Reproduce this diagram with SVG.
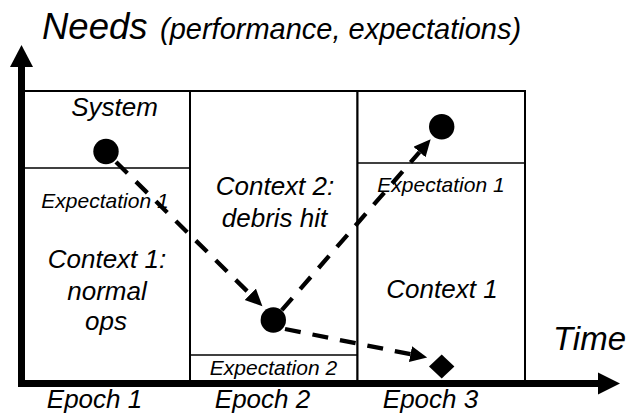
<svg xmlns="http://www.w3.org/2000/svg" width="628" height="415" viewBox="0 0 628 415">
<defs>
<style>
text{font-family:"Liberation Sans",Arial,sans-serif;font-style:italic;fill:#000}
.ctx{font-size:26px;text-anchor:middle}
.exp{font-size:21px;text-anchor:middle}
.box{fill:#fff;stroke:#000;stroke-width:2}
.div{stroke:#000;stroke-width:1.5}
.dash{fill:none;stroke:#000;stroke-width:4.3;stroke-dasharray:16 12;marker-end:url(#ah)}
.axis{stroke:#000;stroke-width:7;fill:none}
</style>
<marker id="ah" markerUnits="userSpaceOnUse" markerWidth="20" markerHeight="20" refX="0" refY="8" orient="auto">
<path d="M0,0 L17,8 L0,16 Z" fill="#000"/>
</marker>
</defs>
<rect width="628" height="415" fill="#fff"/>
<g id="epoch1">
<rect class="box" x="21.5" y="91" width="168.5" height="292"/>
<line class="div" x1="21.5" y1="168" x2="190" y2="168"/>
<text class="ctx" x="114.5" y="116">System</text>
<text class="exp" x="105" y="208">Expectation 1</text>
<text class="ctx" x="107" y="268">Context 1:</text>
<text class="ctx" x="107" y="300">normal</text>
<text class="ctx" x="106" y="330">ops</text>
</g>
<g id="epoch2">
<rect class="box" x="190" y="91" width="167.5" height="292"/>
<line class="div" x1="190" y1="355" x2="357.5" y2="355"/>
<text class="ctx" x="275" y="195">Context 2:</text>
<text class="ctx" x="274.5" y="227">debris hit</text>
<text class="exp" x="273.5" y="375">Expectation 2</text>
</g>
<g id="epoch3">
<rect class="box" x="357.5" y="91" width="167.5" height="292"/>
<line class="div" x1="357.5" y1="163" x2="525" y2="163"/>
<text class="exp" x="441" y="192">Expectation 1</text>
<text class="ctx" x="442" y="298">Context 1</text>
</g>
<g id="axes">
<line class="axis" x1="21.5" y1="66" x2="21.5" y2="383"/>
<line class="axis" x1="18" y1="383.5" x2="599" y2="383.5"/>
<path d="M21.5,45 L33,67 L10,67 Z" fill="#000"/>
<path d="M620,383.5 L598,372.5 L598,394.5 Z" fill="#000"/>
<text x="42" y="39" style="font-size:36.5px">Needs<tspan x="160" style="font-size:29px">(performance, expectations)</tspan></text>
<text x="553" y="350" style="font-size:33px">Time</text>
<text class="ctx" x="94.5" y="408">Epoch 1</text>
<text class="ctx" x="262.5" y="408">Epoch 2</text>
<text class="ctx" x="430.5" y="408">Epoch 3</text>
</g>
<g id="states">
<circle id="s1" cx="106" cy="151.5" r="12.7" fill="#000"/>
<circle id="s2" cx="273.3" cy="320" r="12.7" fill="#000"/>
<circle id="s3" cx="441.7" cy="126.7" r="12.7" fill="#000"/>
<path id="s4" d="M441.7,354.5 L454.4,366.5 L441.7,378.5 L429,366.5 Z" fill="#000"/>
</g>
<g id="connectors">
<path class="dash" d="M116,162 L250.3,294.3"/>
<path class="dash" d="M281.8,310.2 L419.5,152.1"/>
<path class="dash" d="M285,329 L410.5,354.2"/>
</g>
</svg>
